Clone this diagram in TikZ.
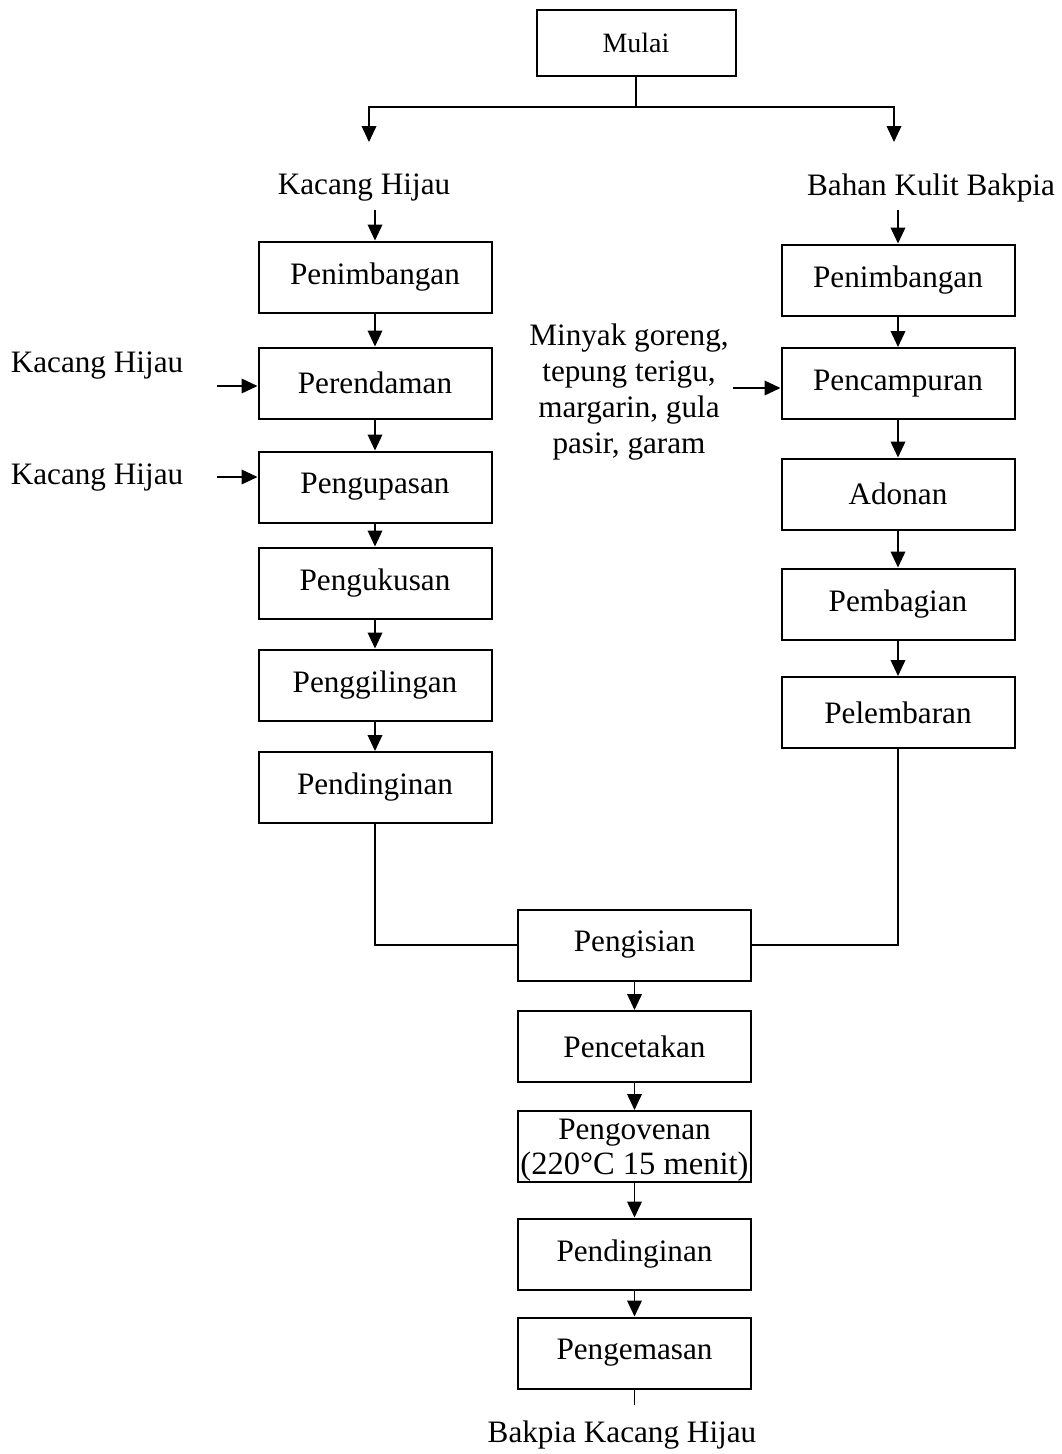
\documentclass[tikz,border=0pt]{standalone}
\usepackage{fontspec}
\setmainfont{Liberation Serif}
\usetikzlibrary{arrows.meta}

\tikzset{every picture/.style={line width=0.75pt}}
\tikzset{
  kotak/.style={draw, line width=1.5pt, minimum width=174.75pt, minimum height=53.25pt, inner sep=0pt, align=center, font=\fontsize{23.4}{26}\selectfont},
  teks/.style={inner sep=0.75pt, align=center, font=\fontsize{23.4}{27}\selectfont},
  panah/.style={line width=1.2pt, -{Triangle[length=12pt,width=11pt]}},
  garis/.style={line width=1.2pt}
}

\begin{document}
\begin{tikzpicture}[x=0.75pt,y=0.75pt,yscale=-1,xscale=1]
\useasboundingbox (0,0) rectangle (1062,1454);

%Shape: Rectangle [Mulai]
\node [kotak, minimum width=149.25pt, minimum height=49.5pt, font=\fontsize{21}{24}\selectfont] (mulai) at (636,43) {Mulai};
\coordinate (cabang) at (636,107);
\coordinate (kiri) at (369,142);
\coordinate (kanan) at (894,142);
\draw [garis] (mulai) -- (cabang);
\draw [panah] (cabang) -| (kiri);
\draw [panah] (cabang) -| (kanan);

%Text: bahan baku
\node [teks] (kh1) at (364,188) {Kacang Hijau};
\node [teks] (bahan) at (931,188) {Bahan Kulit Bakpia};

%Shape: Rectangle [kolom kiri]
\node [kotak] (pnb1) at (375,277) {Penimbangan};
\node [kotak] (per) at (375,383) {Perendaman};
\node [kotak] (kup) at (375,487) {Pengupasan};
\node [kotak] (kus) at (375,583) {Pengukusan};
\node [kotak] (gil) at (375,685) {Penggilingan};
\node [kotak] (din1) at (375,787.5) {Pendinginan};

%Shape: Rectangle [kolom kanan]
\node [kotak] (pnb2) at (898,280) {Penimbangan};
\node [kotak] (cam) at (898,383.5) {Pencampuran};
\node [kotak] (ado) at (898,494) {Adonan};
\node [kotak] (bag) at (898,604) {Pembagian};
\node [kotak] (lem) at (898,712.5) {Pelembaran};

%Shape: Rectangle [kolom tengah]
\node [kotak] (isi) at (634.5,945) {Pengisian};
\node [kotak] (cetak) at (634.5,1046.5) {Pencetakan};
\node [kotak, text depth=-4pt] (oven) at (634.5,1146.5) {Pengovenan\\{\fontsize{24.4}{26}\selectfont (220°C 15 menit)}};
\node [kotak] (din2) at (634.5,1254) {Pendinginan};
\node [kotak] (kemas) at (634.5,1353) {Pengemasan};

%Text: bahan tambahan
\node [teks] (kh2) at (97,366) {Kacang Hijau};
\node [teks] (kh3) at (97,478) {Kacang Hijau};
\node [teks] (minyak) at (629,392) {Minyak goreng,\\tepung terigu,\\margarin, gula\\pasir, garam};
\node [teks] (bakpia) at (622,1435) {Bakpia Kacang Hijau};
\coordinate (in1) at (217,386);
\coordinate (in2) at (217,477);
\coordinate (in3) at (733,388);
\coordinate (ujung) at (634.5,1405);

%Arrows kiri
\draw [panah, shorten <=5pt] (kh1.south -| pnb1.north) -- (pnb1.north);
\draw [panah] (pnb1) -- (per);
\draw [panah] (per) -- (kup);
\draw [panah] (kup) -- (kus);
\draw [panah] (kus) -- (gil);
\draw [panah] (gil) -- (din1);
\draw [panah] (in1) -- (in1 -| per.west);
\draw [panah] (in2) -- (in2 -| kup.west);

%Arrows kanan
\draw [panah, shorten <=5pt] (bahan.south -| pnb2.north) -- (pnb2.north);
\draw [panah] (pnb2) -- (cam);
\draw [panah] (cam) -- (ado);
\draw [panah] (ado) -- (bag);
\draw [panah] (bag) -- (lem);
\draw [panah] (in3) -- (in3 -| cam.west);

%Lines ke pengisian
\draw [garis] (din1) |- (isi);
\draw [garis] (lem) |- (isi);

%Arrows tengah
\draw [panah] (isi) -- (cetak);
\draw [panah] (cetak) -- (oven);
\draw [panah] (oven) -- (din2);
\draw [panah] (din2) -- (kemas);
\draw [garis] (kemas) -- (ujung);

\end{tikzpicture}
\end{document}
